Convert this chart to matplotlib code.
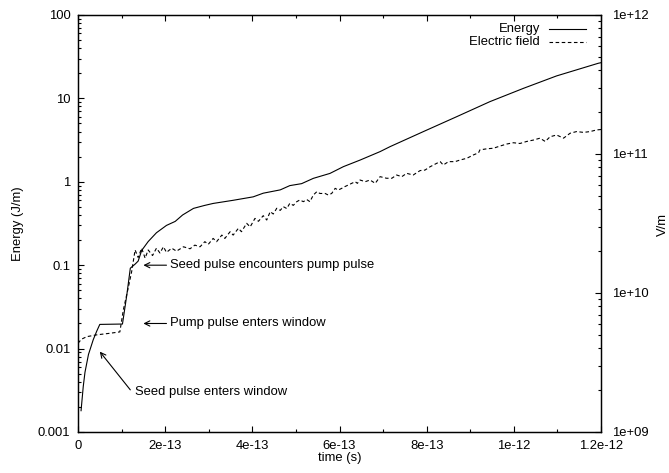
import numpy as np
import matplotlib
matplotlib.use("Agg")
import matplotlib.pyplot as plt
from matplotlib.ticker import LogLocator, NullFormatter

plt.rcParams['font.family'] = ['Liberation Sans', 'DejaVu Sans']
plt.rcParams['font.size'] = 9.4

# Energy (left axis), time in units of 1e-13 s, energy in J/m
energy_t = [0.07, 0.12, 0.16, 0.24, 0.35, 0.43, 0.50, 1.02, 1.12, 1.20, 1.31, 1.38,
            1.46, 1.61, 1.80, 2.03, 2.23, 2.40, 2.65, 2.90, 3.10, 3.56, 4.02, 4.25,
            4.64, 4.86, 5.13, 5.40, 5.78, 6.09, 6.47, 6.93, 7.16, 7.92, 8.69, 9.45,
            10.22, 10.98, 11.94, 12.0]
energy = [0.0018, 0.0035, 0.0052, 0.0085, 0.0128, 0.0162, 0.0195, 0.0197, 0.044, 0.092,
          0.103, 0.112, 0.150, 0.192, 0.245, 0.300, 0.335, 0.40, 0.48, 0.52, 0.55,
          0.60, 0.66, 0.73, 0.80, 0.90, 0.95, 1.10, 1.26, 1.52, 1.82, 2.30, 2.64,
          3.99, 6.04, 9.14, 13.2, 18.6, 26.4, 26.8]

# Electric field (right axis), time in 1e-13 s, field in 1e10 V/m
field_t = [0.0, 0.08, 0.2, 0.43, 0.73, 0.96, 1.04, 1.15, 1.23, 1.31, 1.38, 1.46,
           1.54, 1.61, 1.71, 1.80, 1.88, 1.96, 2.03, 2.15, 2.26, 2.42, 2.57, 2.68,
           2.80, 2.91, 2.99, 3.10, 3.18, 3.30, 3.37, 3.49, 3.56, 3.68, 3.75, 3.87,
           3.95, 4.06, 4.14, 4.25, 4.33, 4.41, 4.48, 4.56, 4.64, 4.71, 4.79, 4.86,
           4.94, 5.02, 5.09, 5.17, 5.25, 5.32, 5.40, 5.48, 5.55, 5.67, 5.74, 5.82,
           5.90, 5.97, 6.05, 6.12, 6.20, 6.28, 6.36, 6.41, 6.47, 6.59, 6.70, 6.82,
           6.93, 7.08, 7.20, 7.31, 7.43, 7.54, 7.69, 7.85, 7.96, 8.08, 8.23, 8.31,
           8.38, 8.50, 8.65, 8.77, 8.92, 9.07, 9.19, 9.22, 9.38, 9.53, 9.68, 9.84,
           9.99, 10.14, 10.29, 10.45, 10.60, 10.72, 10.83, 10.98, 11.14, 11.29,
           11.44, 11.60, 11.75, 11.90, 12.0]
field = [0.435, 0.465, 0.485, 0.50, 0.513, 0.525, 0.755, 1.08, 1.42, 2.04, 1.80, 2.10,
         1.78, 2.04, 1.86, 2.10, 1.94, 2.15, 1.96, 2.10, 2.00, 2.15, 2.08, 2.21,
         2.15, 2.34, 2.24, 2.47, 2.34, 2.61, 2.47, 2.76, 2.61, 2.92, 2.76, 3.17,
         2.99, 3.44, 3.28, 3.60, 3.35, 3.85, 3.70, 4.07, 3.93, 4.18, 4.05, 4.42,
         4.27, 4.54, 4.67, 4.54, 4.70, 4.54, 5.07, 5.36, 5.20, 5.20, 5.07, 5.20,
         5.66, 5.50, 5.66, 5.82, 5.98, 6.15, 6.32, 6.15, 6.50, 6.32, 6.50, 6.15,
         6.87, 6.69, 6.69, 7.06, 6.87, 7.26, 7.06, 7.60, 7.66, 8.10, 8.57, 8.81,
         8.33, 8.81, 8.81, 9.06, 9.31, 9.84, 10.2, 10.7, 10.9, 11.0, 11.4, 11.8,
         12.05, 11.9, 12.3, 12.6, 13.0, 12.3, 13.3, 13.7, 13.0, 14.1,
         14.5, 14.3, 14.5, 14.9, 15.0]

x_ticks = [0, 2e-13, 4e-13, 6e-13, 8e-13, 1e-12, 1.2e-12]
x_labels = ["0", "2e-13", "4e-13", "6e-13", "8e-13", "1e-12", "1.2e-12"]
y1_ticks = [0.001, 0.01, 0.1, 1, 10, 100]
y1_labels = ["0.001", "0.01", "0.1", "1", "10", "100"]
y2_ticks = [1e9, 1e10, 1e11, 1e12]
y2_labels = ["1e+09", "1e+10", "1e+11", "1e+12"]

t_e = np.array(energy_t) * 1e-13
t_f = np.array(field_t) * 1e-13
e_f = np.array(field) * 1e10

fig = plt.figure(figsize=(6.69, 4.73), dpi=100)
ax = fig.add_axes([0.1166, 0.0867, 0.7818, 0.8816])
ax2 = ax.twinx()

ax.plot(t_e, energy, color='black', lw=0.8)
ax2.plot(t_f, e_f, color='black', lw=0.8, dashes=(3.2, 2.3))

ax.set_xlim(0, 1.2e-12)
ax.set_yscale('log')
ax.set_ylim(1e-3, 100)
ax2.set_yscale('log')
ax2.set_ylim(1e9, 1e12)

ax.set_xticks(x_ticks, x_labels)
ax.set_xticks(np.arange(1, 12, 2) * 1e-13, minor=True)
ax.set_yticks(y1_ticks, y1_labels)
ax.yaxis.set_minor_locator(LogLocator(base=10, subs=np.arange(2, 10)))
ax.yaxis.set_minor_formatter(NullFormatter())
ax2.set_yticks(y2_ticks, y2_labels)
ax2.yaxis.set_minor_locator(LogLocator(base=10, subs=np.arange(2, 10)))
ax2.yaxis.set_minor_formatter(NullFormatter())

ax.tick_params(axis='x', which='both', direction='in', top=True, bottom=True, pad=6)
ax.tick_params(axis='y', which='both', direction='in', left=True, right=False, pad=5.5)
ax2.tick_params(axis='y', which='both', direction='in', right=True, left=False, pad=7.7)
for a in (ax, ax2):
    a.tick_params(which='major', length=4.3, width=0.8)
    a.tick_params(which='minor', length=2.2, width=0.8)
    for s in a.spines.values():
        s.set_linewidth(0.9)

fig.text(18 / 669, 1 - 223.5 / 473, 'Energy (J/m)', rotation=90, ha='center', va='center')
fig.text(663 / 669, 1 - 224 / 473, 'V/m', rotation=90, ha='center', va='center')
fig.text(339.5 / 669, 1 - 458 / 473, 'time (s)', ha='center', va='center')

# key, gnuplot style: right-justified text followed by line sample
ax.text(0.8834, 0.9657, 'Energy', transform=ax.transAxes, ha='right', va='center')
ax.plot([0.9006, 0.9713], [0.9657, 0.9657], transform=ax.transAxes, color='black', lw=0.8)
ax.text(0.8834, 0.936, 'Electric field', transform=ax.transAxes, ha='right', va='center')
ax.plot([0.9006, 0.9713], [0.936, 0.936], transform=ax.transAxes, color='black', lw=0.8,
        dashes=(3.2, 2.3))

arrow = dict(arrowstyle='->', color='black', lw=0.8, shrinkA=0, shrinkB=0)
ax.annotate('', xy=(1.5e-13, 0.1), xytext=(2.03e-13, 0.1), arrowprops=arrow)
ax.text(2.1e-13, 0.1, 'Seed pulse encounters pump pulse', va='center')
ax.annotate('', xy=(1.5e-13, 0.02), xytext=(2.03e-13, 0.02), arrowprops=arrow)
ax.text(2.1e-13, 0.02, 'Pump pulse enters window', va='center')
ax.annotate('', xy=(0.5e-13, 0.0092), xytext=(1.2e-13, 0.0032), arrowprops=arrow)
ax.text(1.31e-13, 0.003, 'Seed pulse enters window', va='center')

fig.savefig('out.png', dpi=100)
